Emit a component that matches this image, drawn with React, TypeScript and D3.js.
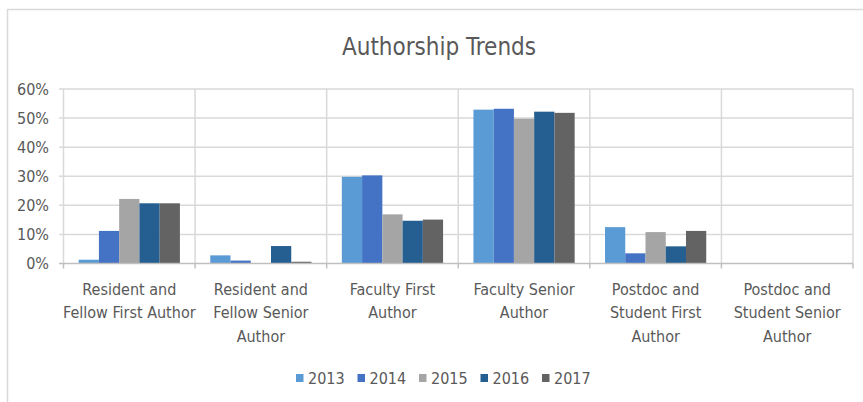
import { useRef, useEffect } from 'react';
import * as d3 from 'd3';

// chart data
const categories = [
  "Resident and|Fellow First Author",
  "Resident and|Fellow Senior|Author",
  "Faculty First|Author",
  "Faculty Senior|Author",
  "Postdoc and|Student First|Author",
  "Postdoc and|Student Senior|Author"
];
const years = ["2013", "2014", "2015", "2016", "2017"];
const colors = ["#5B9BD5", "#4472C4", "#A5A5A5", "#255E91", "#636363"];
// values per year, one per category (fraction)
const v2013 = [0.013, 0.028, 0.298, 0.529, 0.125, 0];
const v2014 = [0.112, 0.010, 0.303, 0.532, 0.035, 0];
const v2015 = [0.222, 0, 0.169, 0.498, 0.108, 0];
const v2016 = [0.207, 0.060, 0.147, 0.522, 0.059, 0];
const v2017 = [0.207, 0.006, 0.151, 0.518, 0.112, 0];
const yTicks = [0, 0.1, 0.2, 0.3, 0.4, 0.5, 0.6];

const FONT = "'Liberation Sans Narrow', 'DejaVu Sans Condensed', sans-serif";

export default function App() {
  const ref = useRef<SVGSVGElement>(null);

  useEffect(() => {
    if (!ref.current) return;
    const width = 863;
    const height = 402;
    const series = [v2013, v2014, v2015, v2016, v2017];

    const svg = d3.select(ref.current)
      .attr('width', width)
      .attr('height', height);
    svg.selectAll("*").remove();

    // chart border
    svg.append("rect")
      .attr("x", 7.5).attr("y", 9.5)
      .attr("width", width).attr("height", height)
      .attr("fill", "white")
      .attr("stroke", "#D9D9D9")
      .attr("stroke-width", 1.5);

    const x = d3.scaleBand()
      .domain(categories)
      .range([63.5, 853]);

    const barW = x.bandwidth() / 6.5;
    const x1 = d3.scaleBand()
      .domain(years)
      .range([barW * 0.75, x.bandwidth() - barW * 0.75]);

    const y = d3.scaleLinear()
      .domain([0, 0.6])
      .range([263.5, 89]);

    // horizontal gridlines
    svg.append("g")
      .selectAll("line")
      .data(yTicks.slice(1))
      .join("line")
      .attr("x1", 59).attr("x2", 853)
      .attr("y1", d => y(d)).attr("y2", d => y(d))
      .attr("stroke", "#D9D9D9")
      .attr("stroke-width", 1.5);

    // vertical category separators
    const bounds = categories.map(c => x(c)!).concat([853]);
    svg.append("g")
      .selectAll("line")
      .data(bounds)
      .join("line")
      .attr("x1", d => d).attr("x2", d => d)
      .attr("y1", y(0.6)).attr("y2", y(0))
      .attr("stroke", "#D9D9D9")
      .attr("stroke-width", 1.5);

    // bars
    series.forEach((vals, i) => {
      svg.append("g")
        .selectAll("rect")
        .data(vals)
        .join("rect")
        .attr("x", (d, j) => x(categories[j])! + x1(years[i])!)
        .attr("y", d => y(d))
        .attr("width", x1.bandwidth())
        .attr("height", d => y(0) - y(d))
        .attr("fill", colors[i]);
    });

    // bottom axis line + ticks
    svg.append("line")
      .attr("x1", 59).attr("x2", 853)
      .attr("y1", y(0)).attr("y2", y(0))
      .attr("stroke", "#BFBFBF")
      .attr("stroke-width", 1.5);
    svg.append("g")
      .selectAll("line")
      .data(bounds)
      .join("line")
      .attr("x1", d => d).attr("x2", d => d)
      .attr("y1", y(0)).attr("y2", y(0) + 5)
      .attr("stroke", "#BFBFBF")
      .attr("stroke-width", 1.5);

    // y labels
    svg.append("g")
      .selectAll("text")
      .data(yTicks)
      .join("text")
      .attr("x", 49)
      .attr("y", d => y(d))
      .attr("dy", "0.35em")
      .attr("text-anchor", "end")
      .attr("fill", "#595959")
      .style("font-family", FONT)
      .style("font-size", "16px")
      .text(d => d3.format(".0%")(d));

    // category labels
    categories.forEach(c => {
      const t = svg.append("text")
        .attr("text-anchor", "middle")
        .attr("fill", "#595959")
        .style("font-family", FONT)
        .style("font-size", "16px");
      c.split("|").forEach((line, k) => {
        t.append("tspan")
          .attr("x", x(c)! + x.bandwidth() / 2)
          .attr("y", 295 + k * 23.4)
          .text(line);
      });
    });

    // title
    svg.append("text")
      .attr("x", 439)
      .attr("y", 55)
      .attr("text-anchor", "middle")
      .attr("fill", "#595959")
      .style("font-family", FONT)
      .style("font-size", "24px")
      .text("Authorship Trends");

    // legend
    const leg = svg.append("g")
      .selectAll("g")
      .data(years)
      .join("g")
      .attr("transform", (d, i) => `translate(${296 + i * 61.5},378)`);
    leg.append("rect")
      .attr("x", 0).attr("y", -4)
      .attr("width", 7.5).attr("height", 8)
      .attr("fill", (d, i) => colors[i]);
    leg.append("text")
      .attr("x", 12)
      .attr("dy", "0.35em")
      .attr("fill", "#595959")
      .style("font-family", FONT)
      .style("font-size", "16px")
      .text(d => d);
  }, []);

  return (
    <svg ref={ref} style={{ position: 'absolute', left: 0, top: 0, display: 'block' }}></svg>
  );
}
